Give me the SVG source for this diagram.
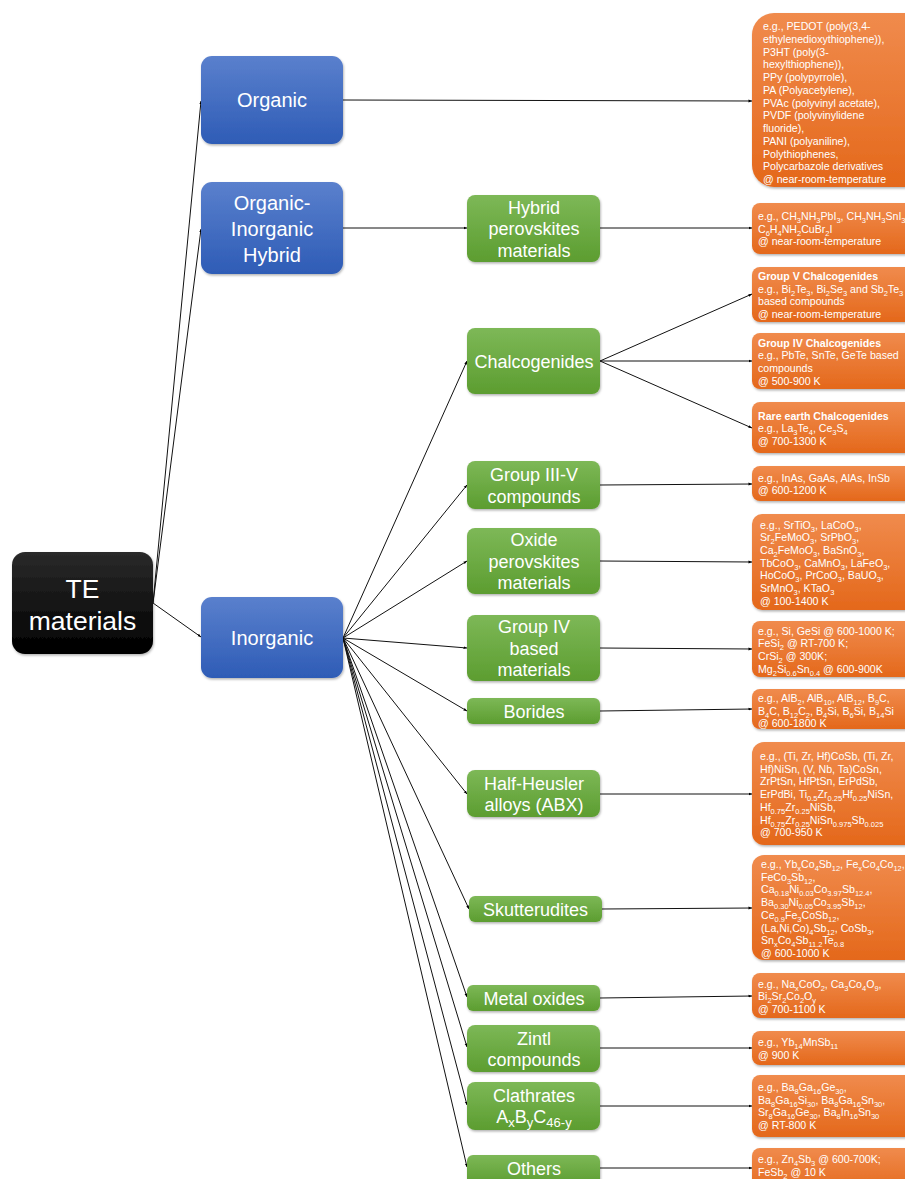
<svg xmlns="http://www.w3.org/2000/svg" width="905" height="1179" viewBox="0 0 905 1179">
<defs>
<linearGradient id="gBlue" x1="0" y1="0" x2="0" y2="1"><stop offset="0" stop-color="#5a80cd"/><stop offset="1" stop-color="#2e5cb6"/></linearGradient>
<linearGradient id="gGreen" x1="0" y1="0" x2="0" y2="1"><stop offset="0" stop-color="#7db857"/><stop offset="1" stop-color="#5c9d30"/></linearGradient>
<linearGradient id="gOrange" x1="0" y1="0" x2="0" y2="1"><stop offset="0" stop-color="#f08b4d"/><stop offset="1" stop-color="#e4681b"/></linearGradient>
<linearGradient id="gBlack" x1="0" y1="0" x2="0" y2="1"><stop offset="0" stop-color="#2a2a2a"/><stop offset="1" stop-color="#000"/></linearGradient>
<filter id="sh" x="-10%" y="-10%" width="130%" height="130%"><feDropShadow dx="0.8" dy="1.5" stdDeviation="1" flood-color="#000" flood-opacity="0.3"/></filter>
<marker id="ah" markerWidth="4" markerHeight="4" refX="3.5" refY="2" orient="auto" markerUnits="userSpaceOnUse"><path d="M0,0.6 L3.5,2 L0,3.4z" fill="#000"/></marker>
<style>
.blue{fill:url(#gBlue);filter:url(#sh)}
.green{fill:url(#gGreen);filter:url(#sh)}
.orange{fill:url(#gOrange);filter:url(#sh)}
.black{fill:url(#gBlack);filter:url(#sh)}
.tb{font-family:"Liberation Sans",Arial,sans-serif;font-size:20px;fill:#fff;text-anchor:middle}
.tg{font-family:"Liberation Sans",Arial,sans-serif;font-size:18px;fill:#fff;text-anchor:middle}
.tk{font-family:"Liberation Sans",Arial,sans-serif;font-size:26.5px;fill:#fff;text-anchor:middle}
.to{font-family:"Liberation Sans",Arial,sans-serif;font-size:10.6px;fill:#fff}
.bd{font-weight:bold}
.s{font-size:7.5px;baseline-shift:-2.5px}
.sg{font-size:13px;baseline-shift:-4px}
.cn{stroke:#111;stroke-width:1;fill:none;marker-end:url(#ah)}
</style>
</defs>

<g id="connectors">
<path class="cn" d="M153,603 L201,101"/>
<path class="cn" d="M153,603 L201,229"/>
<path class="cn" d="M153,603 L201,637"/>
<path class="cn" d="M343,100 L752,101"/>
<path class="cn" d="M343,228 L467,228"/>
<path class="cn" d="M600,228 L752,228"/>
<path class="cn" d="M343,638 L467,361"/>
<path class="cn" d="M343,638 L467,485"/>
<path class="cn" d="M343,638 L467,561"/>
<path class="cn" d="M343,638 L467,648"/>
<path class="cn" d="M343,638 L467,711"/>
<path class="cn" d="M343,638 L467,794"/>
<path class="cn" d="M343,638 L469,909"/>
<path class="cn" d="M343,638 L467,997"/>
<path class="cn" d="M343,638 L467,1047"/>
<path class="cn" d="M343,638 L467,1105"/>
<path class="cn" d="M343,638 L467,1167"/>
<path class="cn" d="M600,361 L752,294"/>
<path class="cn" d="M600,361 L752,361"/>
<path class="cn" d="M600,361 L752,428"/>
<path class="cn" d="M600,485 L752,484"/>
<path class="cn" d="M600,561 L752,562"/>
<path class="cn" d="M600,648 L752,649"/>
<path class="cn" d="M600,711 L752,709"/>
<path class="cn" d="M600,794 L752,794"/>
<path class="cn" d="M602,909 L752,908"/>
<path class="cn" d="M600,998 L752,996"/>
<path class="cn" d="M600,1048 L752,1048"/>
<path class="cn" d="M600,1106 L752,1106"/>
<path class="cn" d="M600,1168 L752,1168"/>
</g>

<g id="te-materials">
<rect class="black" x="12" y="552" width="141" height="102" rx="13"/>
<text class="tk" x="82.5" y="598">TE</text>
<text class="tk" x="82.5" y="630">materials</text>
</g>

<g id="organic">
<rect class="blue" x="201" y="56" width="142" height="88" rx="11"/>
<text class="tb" x="272" y="107">Organic</text>
</g>
<g id="organic-inorganic-hybrid">
<rect class="blue" x="201" y="182" width="142" height="92" rx="11"/>
<text class="tb" x="272" y="210">Organic-</text>
<text class="tb" x="272" y="236">Inorganic</text>
<text class="tb" x="272" y="262">Hybrid</text>
</g>
<g id="inorganic">
<rect class="blue" x="201" y="597" width="142" height="81" rx="11"/>
<text class="tb" x="272" y="645">Inorganic</text>
</g>

<g id="hybrid-perovskites">
<rect class="green" x="467" y="195" width="133" height="67" rx="8"/>
<text class="tg" x="534" y="213.5">Hybrid</text>
<text class="tg" x="534" y="235">perovskites</text>
<text class="tg" x="534" y="256.5">materials</text>
</g>
<g id="chalcogenides">
<rect class="green" x="467" y="328" width="133" height="66" rx="8"/>
<text class="tg" x="534" y="367.5">Chalcogenides</text>
</g>
<g id="group-iii-v">
<rect class="green" x="467" y="461" width="133" height="48" rx="8"/>
<text class="tg" x="534" y="480.5">Group III-V</text>
<text class="tg" x="534" y="502.5">compounds</text>
</g>
<g id="oxide-perovskites">
<rect class="green" x="467" y="528" width="133" height="66" rx="8"/>
<text class="tg" x="534" y="546">Oxide</text>
<text class="tg" x="534" y="567.5">perovskites</text>
<text class="tg" x="534" y="589">materials</text>
</g>
<g id="group-iv">
<rect class="green" x="467" y="615" width="133" height="66" rx="8"/>
<text class="tg" x="534" y="633">Group IV</text>
<text class="tg" x="534" y="654.5">based</text>
<text class="tg" x="534" y="676">materials</text>
</g>
<g id="borides">
<rect class="green" x="467" y="698" width="133" height="26" rx="6"/>
<text class="tg" x="534" y="717.5">Borides</text>
</g>
<g id="half-heusler">
<rect class="green" x="467" y="770" width="133" height="47" rx="8"/>
<text class="tg" x="534" y="789.5">Half-Heusler</text>
<text class="tg" x="534" y="811">alloys (ABX)</text>
</g>
<g id="skutterudites">
<rect class="green" x="469" y="896" width="133" height="26" rx="6"/>
<text class="tg" x="535.5" y="915.5">Skutterudites</text>
</g>
<g id="metal-oxides">
<rect class="green" x="467" y="985" width="133" height="26" rx="6"/>
<text class="tg" x="534" y="1004.5">Metal oxides</text>
</g>
<g id="zintl">
<rect class="green" x="467" y="1025" width="133" height="47" rx="8"/>
<text class="tg" x="534" y="1044.5">Zintl</text>
<text class="tg" x="534" y="1066">compounds</text>
</g>
<g id="clathrates">
<rect class="green" x="467" y="1082" width="133" height="48" rx="8"/>
<text class="tg" x="534" y="1101.5">Clathrates</text>
<text class="tg" x="534" y="1123">A<tspan class="sg">x</tspan>B<tspan class="sg">y</tspan>C<tspan class="sg">46-y</tspan></text>
</g>
<g id="others">
<rect class="green" x="467" y="1155" width="133" height="30" rx="6"/>
<text class="tg" x="534" y="1174.5">Others</text>
</g>

<g id="ex-organic">
<rect class="orange" x="752" y="13" width="175" height="174" rx="22"/>
<text class="to" x="763" y="30">e.g., PEDOT (poly(3,4-</text>
<text class="to" x="763" y="42.75">ethylenedioxythiophene)),</text>
<text class="to" x="763" y="55.5">P3HT (poly(3-</text>
<text class="to" x="763" y="68.25">hexylthiophene)),</text>
<text class="to" x="763" y="81">PPy (polypyrrole),</text>
<text class="to" x="763" y="93.75">PA (Polyacetylene),</text>
<text class="to" x="763" y="106.5">PVAc (polyvinyl acetate),</text>
<text class="to" x="763" y="119.25">PVDF (polyvinylidene</text>
<text class="to" x="763" y="132">fluoride),</text>
<text class="to" x="763" y="144.75">PANI (polyaniline),</text>
<text class="to" x="763" y="157.5">Polythiophenes,</text>
<text class="to" x="763" y="170.25">Polycarbazole derivatives</text>
<text class="to" x="763" y="183">@ near-room-temperature</text>
</g>
<g id="ex-hybrid">
<rect class="orange" x="752" y="203" width="175" height="51" rx="8"/>
<text class="to" x="758" y="220">e.g., CH<tspan class="s">3</tspan>NH<tspan class="s">3</tspan>PbI<tspan class="s">3</tspan>, CH<tspan class="s">3</tspan>NH<tspan class="s">3</tspan>SnI<tspan class="s">3</tspan>,</text>
<text class="to" x="758" y="232.5">C<tspan class="s">6</tspan>H<tspan class="s">4</tspan>NH<tspan class="s">2</tspan>CuBr<tspan class="s">2</tspan>I</text>
<text class="to" x="758" y="245">@ near-room-temperature</text>
</g>
<g id="ex-group-v-chalc">
<rect class="orange" x="752" y="267" width="175" height="55" rx="8"/>
<text class="to bd" x="758" y="280">Group V Chalcogenides</text>
<text class="to" x="758" y="292.7">e.g., Bi<tspan class="s">2</tspan>Te<tspan class="s">3</tspan>, Bi<tspan class="s">2</tspan>Se<tspan class="s">3</tspan> and Sb<tspan class="s">2</tspan>Te<tspan class="s">3</tspan></text>
<text class="to" x="758" y="305.4">based compounds</text>
<text class="to" x="758" y="318.1">@ near-room-temperature</text>
</g>
<g id="ex-group-iv-chalc">
<rect class="orange" x="752" y="333" width="175" height="56" rx="8"/>
<text class="to bd" x="758" y="346.5">Group IV Chalcogenides</text>
<text class="to" x="758" y="359.2">e.g., PbTe, SnTe, GeTe based</text>
<text class="to" x="758" y="371.9">compounds</text>
<text class="to" x="758" y="384.6">@ 500-900 K</text>
</g>
<g id="ex-rare-earth">
<rect class="orange" x="752" y="402" width="175" height="51" rx="8"/>
<text class="to bd" x="758" y="419.5">Rare earth Chalcogenides</text>
<text class="to" x="758" y="432.2">e.g., La<tspan class="s">3</tspan>Te<tspan class="s">4</tspan>, Ce<tspan class="s">3</tspan>S<tspan class="s">4</tspan></text>
<text class="to" x="758" y="444.9">@ 700-1300 K</text>
</g>
<g id="ex-iii-v">
<rect class="orange" x="752" y="466" width="175" height="35" rx="8"/>
<text class="to" x="758" y="481.5">e.g., InAs, GaAs, AlAs, InSb</text>
<text class="to" x="758" y="494.2">@ 600-1200 K</text>
</g>
<g id="ex-oxide">
<rect class="orange" x="752" y="514" width="175" height="96" rx="10"/>
<text class="to" x="760" y="528.5">e.g., SrTiO<tspan class="s">3</tspan>, LaCoO<tspan class="s">3</tspan>,</text>
<text class="to" x="760" y="541.2">Sr<tspan class="s">2</tspan>FeMoO<tspan class="s">3</tspan>, SrPbO<tspan class="s">3</tspan>,</text>
<text class="to" x="760" y="553.9">Ca<tspan class="s">2</tspan>FeMoO<tspan class="s">3</tspan>, BaSnO<tspan class="s">3</tspan>,</text>
<text class="to" x="760" y="566.6">TbCoO<tspan class="s">3</tspan>, CaMnO<tspan class="s">3</tspan>, LaFeO<tspan class="s">3</tspan>,</text>
<text class="to" x="760" y="579.3">HoCoO<tspan class="s">3</tspan>, PrCoO<tspan class="s">3</tspan>, BaUO<tspan class="s">3</tspan>,</text>
<text class="to" x="760" y="592">SrMnO<tspan class="s">3</tspan>, KTaO<tspan class="s">3</tspan></text>
<text class="to" x="760" y="604.7">@ 100-1400 K</text>
</g>
<g id="ex-group-iv">
<rect class="orange" x="752" y="621" width="175" height="56" rx="8"/>
<text class="to" x="758" y="634.5">e.g., Si, GeSi @ 600-1000 K;</text>
<text class="to" x="758" y="647.2">FeSi<tspan class="s">2</tspan> @ RT-700 K;</text>
<text class="to" x="758" y="659.9">CrSi<tspan class="s">2</tspan> @ 300K;</text>
<text class="to" x="758" y="672.6">Mg<tspan class="s">2</tspan>Si<tspan class="s">0.6</tspan>Sn<tspan class="s">0.4</tspan> @ 600-900K</text>
</g>
<g id="ex-borides">
<rect class="orange" x="752" y="689" width="175" height="40" rx="8"/>
<text class="to" x="758" y="702">e.g., AlB<tspan class="s">2</tspan>, AlB<tspan class="s">10</tspan>, AlB<tspan class="s">12</tspan>, B<tspan class="s">9</tspan>C,</text>
<text class="to" x="758" y="714.7">B<tspan class="s">4</tspan>C, B<tspan class="s">12</tspan>C<tspan class="s">2</tspan>, B<tspan class="s">4</tspan>Si, B<tspan class="s">6</tspan>Si, B<tspan class="s">14</tspan>Si</text>
<text class="to" x="758" y="727.4">@ 600-1800 K</text>
</g>
<g id="ex-half-heusler">
<rect class="orange" x="752" y="742" width="175" height="103" rx="12"/>
<text class="to" x="760" y="760">e.g., (Ti, Zr, Hf)CoSb, (Ti, Zr,</text>
<text class="to" x="760" y="772.7">Hf)NiSn, (V, Nb, Ta)CoSn,</text>
<text class="to" x="760" y="785.4">ZrPtSn, HfPtSn, ErPdSb,</text>
<text class="to" x="760" y="798.1">ErPdBi, Ti<tspan class="s">0.5</tspan>Zr<tspan class="s">0.25</tspan>Hf<tspan class="s">0.25</tspan>NiSn,</text>
<text class="to" x="760" y="810.8">Hf<tspan class="s">0.75</tspan>Zr<tspan class="s">0.25</tspan>NiSb,</text>
<text class="to" x="760" y="823.5">Hf<tspan class="s">0.75</tspan>Zr<tspan class="s">0.25</tspan>NiSn<tspan class="s">0.975</tspan>Sb<tspan class="s">0.025</tspan></text>
<text class="to" x="760" y="836.2">@ 700-950 K</text>
</g>
<g id="ex-skutterudites">
<rect class="orange" x="752" y="855" width="175" height="105" rx="12"/>
<text class="to" x="761" y="868">e.g., Yb<tspan class="s">x</tspan>Co<tspan class="s">4</tspan>Sb<tspan class="s">12</tspan>, Fe<tspan class="s">x</tspan>Co<tspan class="s">4</tspan>Co<tspan class="s">12</tspan>,</text>
<text class="to" x="761" y="880.7">FeCo<tspan class="s">3</tspan>Sb<tspan class="s">12</tspan>,</text>
<text class="to" x="761" y="893.4">Ca<tspan class="s">0.18</tspan>Ni<tspan class="s">0.03</tspan>Co<tspan class="s">3.97</tspan>Sb<tspan class="s">12.4</tspan>,</text>
<text class="to" x="761" y="906.1">Ba<tspan class="s">0.30</tspan>Ni<tspan class="s">0.05</tspan>Co<tspan class="s">3.95</tspan>Sb<tspan class="s">12</tspan>,</text>
<text class="to" x="761" y="918.8">Ce<tspan class="s">0.9</tspan>Fe<tspan class="s">3</tspan>CoSb<tspan class="s">12</tspan>,</text>
<text class="to" x="761" y="931.5">(La,Ni,Co)<tspan class="s">4</tspan>Sb<tspan class="s">12</tspan>, CoSb<tspan class="s">3</tspan>,</text>
<text class="to" x="761" y="944.2">Sn<tspan class="s">x</tspan>Co<tspan class="s">4</tspan>Sb<tspan class="s">11.2</tspan>Te<tspan class="s">0.8</tspan></text>
<text class="to" x="761" y="956.9">@ 600-1000 K</text>
</g>
<g id="ex-metal-oxides">
<rect class="orange" x="752" y="973" width="175" height="45" rx="8"/>
<text class="to" x="758" y="987.5">e.g., Na<tspan class="s">x</tspan>CoO<tspan class="s">2</tspan>, Ca<tspan class="s">3</tspan>Co<tspan class="s">4</tspan>O<tspan class="s">9</tspan>,</text>
<text class="to" x="758" y="1000.2">Bi<tspan class="s">2</tspan>Sr<tspan class="s">2</tspan>Co<tspan class="s">2</tspan>O<tspan class="s">y</tspan></text>
<text class="to" x="758" y="1012.9">@ 700-1100 K</text>
</g>
<g id="ex-zintl">
<rect class="orange" x="752" y="1031" width="175" height="34" rx="8"/>
<text class="to" x="758" y="1046">e.g., Yb<tspan class="s">14</tspan>MnSb<tspan class="s">11</tspan></text>
<text class="to" x="758" y="1058.7">@ 900 K</text>
</g>
<g id="ex-clathrates">
<rect class="orange" x="752" y="1075" width="175" height="62" rx="8"/>
<text class="to" x="758" y="1091">e.g., Ba<tspan class="s">8</tspan>Ga<tspan class="s">16</tspan>Ge<tspan class="s">30</tspan>,</text>
<text class="to" x="758" y="1103.7">Ba<tspan class="s">8</tspan>Ga<tspan class="s">16</tspan>Si<tspan class="s">30</tspan>, Ba<tspan class="s">8</tspan>Ga<tspan class="s">16</tspan>Sn<tspan class="s">30</tspan>,</text>
<text class="to" x="758" y="1116.4">Sr<tspan class="s">8</tspan>Ga<tspan class="s">16</tspan>Ge<tspan class="s">30</tspan>, Ba<tspan class="s">8</tspan>In<tspan class="s">16</tspan>Sn<tspan class="s">30</tspan></text>
<text class="to" x="758" y="1129.1">@ RT-800 K</text>
</g>
<g id="ex-others">
<rect class="orange" x="752" y="1148" width="175" height="45" rx="8"/>
<text class="to" x="758" y="1162.5">e.g., Zn<tspan class="s">4</tspan>Sb<tspan class="s">3</tspan> @ 600-700K;</text>
<text class="to" x="758" y="1176">FeSb<tspan class="s">2</tspan> @ 10 K</text>
</g>
</svg>
